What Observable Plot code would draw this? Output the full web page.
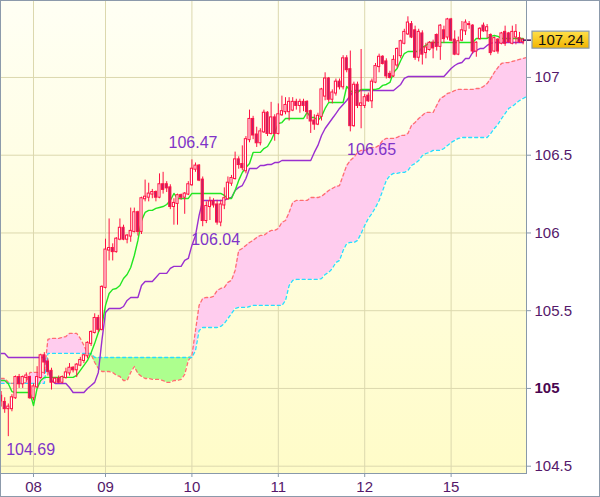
<!DOCTYPE html>
<html><head><meta charset="utf-8">
<script src="https://cdn.jsdelivr.net/npm/d3@7"></script>
<script src="https://cdn.jsdelivr.net/npm/@observablehq/plot@0.6"></script>
<style>html,body{margin:0;padding:0;background:#fff;}#chart{width:600px;height:497px;}</style>
</head><body><div id="chart"></div>
<script>
// hourly candles (index-based x axis)
const opens = [104.95,104.91,104.87,104.87,104.94,105.07,105.03,105.07,105.07,104.94,105.01,105.07,105.21,105.17,105.11,105.04,105.06,105.04,105.07,105.10,105.13,105.12,105.15,105.18,105.21,105.29,105.36,105.45,105.38,105.65,105.89,105.90,105.88,105.96,106.03,105.96,105.98,106.01,106.13,106.01,106.22,106.23,106.25,106.26,106.23,106.31,106.31,106.29,106.17,106.19,106.24,106.23,106.25,106.31,106.41,106.43,106.34,106.08,106.17,106.20,106.18,106.07,106.18,106.22,106.32,106.35,106.47,106.44,106.40,106.60,106.73,106.63,106.58,106.65,106.77,106.64,106.74,106.64,106.76,106.78,106.78,106.79,106.84,106.82,106.84,106.84,106.78,106.72,106.70,106.75,106.88,106.99,106.86,106.90,106.97,106.94,107.12,107.05,106.69,106.95,106.82,106.82,106.88,106.85,106.97,107.07,107.13,107.10,107.02,107.01,107.08,107.14,107.22,107.28,107.34,107.30,107.13,107.28,107.16,107.18,107.22,107.27,107.20,107.30,107.26,107.37,107.24,107.15,107.24,107.30,107.34,107.33,107.17,107.25,107.33,107.30,107.27,107.17,107.24,107.22,107.29,107.28,107.22,107.26,107.25,107.23];
const highs = [104.98,104.94,104.90,104.96,105.08,105.09,105.08,105.10,105.08,105.03,105.14,105.22,105.23,105.19,105.13,105.07,105.08,105.08,105.13,105.16,105.14,105.16,105.20,105.22,105.30,105.37,105.48,105.47,105.66,105.96,106.09,105.93,105.97,106.09,106.05,105.99,106.16,106.16,106.14,106.23,106.34,106.32,106.28,106.27,106.38,106.39,106.33,106.31,106.22,106.25,106.25,106.26,106.33,106.47,106.45,106.44,106.36,106.20,106.23,106.22,106.21,106.21,106.29,106.36,106.37,106.52,106.49,106.56,106.62,106.79,106.75,106.68,106.67,106.79,106.78,106.84,106.76,106.83,106.88,106.87,106.87,106.87,106.86,106.86,106.86,106.85,106.79,106.76,106.77,106.93,107.03,107.00,106.92,106.99,106.99,107.14,107.14,107.17,106.97,106.97,107.18,106.89,106.90,106.99,107.09,107.15,107.14,107.12,107.04,107.14,107.19,107.24,107.31,107.39,107.36,107.33,107.31,107.30,107.22,107.23,107.24,107.28,107.34,107.33,107.38,107.38,107.30,107.26,107.36,107.37,107.36,107.34,107.23,107.32,107.35,107.34,107.28,107.26,107.25,107.29,107.33,107.29,107.33,107.34,107.29,107.25];
const lows = [104.88,104.84,104.69,104.85,104.93,105.00,105.00,105.04,104.93,104.92,105.00,105.06,105.09,105.08,104.99,105.03,105.03,105.03,105.06,105.08,105.10,105.07,105.14,105.16,105.19,105.27,105.35,105.36,105.37,105.64,105.82,105.82,105.87,105.95,105.95,105.93,105.94,106.00,105.98,105.99,106.20,106.20,106.22,106.20,106.22,106.25,106.26,106.15,106.05,106.05,106.21,106.12,106.24,106.30,106.39,106.33,106.04,106.06,106.08,106.16,106.05,106.04,106.15,106.21,106.30,106.34,106.41,106.40,106.38,106.58,106.60,106.55,106.56,106.64,106.62,106.63,106.59,106.63,106.75,106.76,106.72,106.78,106.79,106.77,106.78,106.73,106.64,106.66,106.69,106.72,106.85,106.84,106.83,106.88,106.92,106.92,107.03,106.65,106.68,106.80,106.67,106.80,106.84,106.80,106.96,107.03,107.08,106.99,106.99,107.00,107.06,107.12,107.21,107.27,107.25,107.11,107.10,107.08,107.12,107.17,107.12,107.17,107.11,107.22,107.24,107.23,107.14,107.14,107.23,107.27,107.31,107.15,107.13,107.24,107.29,107.25,107.14,107.16,107.15,107.21,107.20,107.22,107.21,107.21,107.22,107.21];
const closes = [104.92,104.87,104.88,104.94,105.07,105.03,105.07,105.08,104.94,105.01,105.07,105.21,105.17,105.11,105.04,105.06,105.04,105.07,105.10,105.13,105.12,105.15,105.18,105.21,105.29,105.36,105.45,105.38,105.65,105.89,105.90,105.88,105.96,106.03,105.96,105.98,106.01,106.13,106.01,106.22,106.23,106.25,106.26,106.23,106.31,106.28,106.29,106.17,106.19,106.24,106.23,106.25,106.31,106.41,106.43,106.34,106.08,106.17,106.20,106.18,106.07,106.18,106.22,106.32,106.35,106.47,106.44,106.42,106.60,106.73,106.63,106.58,106.65,106.77,106.64,106.74,106.64,106.76,106.78,106.82,106.84,106.84,106.82,106.84,106.82,106.78,106.72,106.70,106.75,106.92,106.99,106.86,106.90,106.97,106.94,107.12,107.05,106.69,106.95,106.82,106.83,106.87,106.85,106.97,107.07,107.13,107.09,107.01,107.00,107.11,107.18,107.23,107.29,107.35,107.26,107.13,107.29,107.15,107.19,107.22,107.19,107.20,107.33,107.25,107.37,107.24,107.15,107.23,107.30,107.35,107.34,107.17,107.22,107.31,107.30,107.32,107.16,107.25,107.17,107.28,107.22,107.23,107.29,107.29,107.23,107.24];
// Ichimoku lines
const tenkan = [105.051,105.051,105.030,104.980,104.974,104.974,104.974,104.974,104.974,104.890,105.000,105.051,105.071,105.071,105.071,105.071,105.071,105.071,105.071,105.071,105.071,105.084,105.116,105.148,105.180,105.230,105.290,105.360,105.405,105.534,105.611,105.637,105.643,105.662,105.707,105.733,105.778,105.855,105.952,106.080,106.132,106.145,106.145,106.158,106.164,106.170,106.183,106.209,106.254,106.222,106.222,106.222,106.222,106.254,106.254,106.254,106.254,106.254,106.254,106.254,106.254,106.254,106.241,106.222,106.222,106.273,106.338,106.389,106.421,106.447,106.518,106.518,106.518,106.543,106.556,106.595,106.646,106.704,106.710,106.736,106.736,106.736,106.736,106.736,106.736,106.775,106.743,106.743,106.723,106.749,106.801,106.839,106.839,106.839,106.839,106.839,106.942,106.916,106.903,106.903,106.923,106.923,106.923,106.923,106.923,106.929,106.949,106.955,106.968,107.032,107.058,107.109,107.154,107.167,107.167,107.167,107.167,107.193,107.206,107.225,107.225,107.225,107.225,107.225,107.225,107.225,107.225,107.225,107.225,107.225,107.225,107.225,107.251,107.251,107.251,107.251,107.264,107.270,107.264,107.251,107.251,107.251,107.251,107.251,107.251,107.251];
const kijun = [105.225,105.225,105.199,105.199,105.199,105.199,105.199,105.199,105.199,105.199,105.199,105.199,105.199,105.129,105.051,105.032,105.032,105.032,105.032,105.006,104.974,104.974,104.974,104.974,105.000,105.019,105.039,105.103,105.309,105.489,105.514,105.514,105.514,105.514,105.527,105.566,105.585,105.585,105.585,105.662,105.688,105.688,105.688,105.714,105.740,105.740,105.740,105.772,105.785,105.785,105.785,105.823,105.836,105.920,105.984,106.113,106.209,106.209,106.209,106.209,106.209,106.209,106.209,106.222,106.228,106.273,106.293,106.305,106.350,106.415,106.415,106.415,106.434,106.434,106.440,106.440,106.453,106.453,106.466,106.466,106.466,106.466,106.466,106.466,106.466,106.466,106.466,106.518,106.563,106.627,106.672,106.704,106.736,106.768,106.801,106.826,106.852,106.884,106.916,106.916,106.916,106.916,106.916,106.916,106.916,106.916,106.916,106.916,106.916,106.916,106.936,106.955,106.994,107.006,107.006,107.006,107.006,107.006,107.006,107.006,107.006,107.006,107.006,107.006,107.032,107.058,107.077,107.090,107.096,107.122,107.122,107.161,107.174,107.186,107.186,107.206,107.219,107.225,107.225,107.225,107.225,107.225,107.225,107.225,107.225,107.225];
const spanA = [105.064,105.064,105.040,105.032,105.032,105.032,105.032,105.040,105.103,105.103,105.103,105.103,105.103,105.315,105.322,105.322,105.322,105.328,105.334,105.354,105.354,105.354,105.322,105.277,105.225,105.219,105.167,105.129,105.109,105.109,105.109,105.103,105.084,105.077,105.051,105.051,105.103,105.141,105.096,105.077,105.064,105.064,105.058,105.058,105.058,105.051,105.039,105.039,105.051,105.051,105.058,105.090,105.180,105.212,105.373,105.534,105.579,105.585,105.585,105.592,105.630,105.643,105.650,105.682,105.695,105.759,105.887,105.900,105.920,105.939,105.952,105.971,105.984,105.984,106.003,106.016,106.016,106.029,106.068,106.080,106.132,106.196,106.209,106.209,106.209,106.209,106.228,106.228,106.228,106.235,106.254,106.273,106.286,106.299,106.305,106.370,106.434,106.466,106.486,106.518,106.531,106.531,106.537,106.550,106.550,106.563,106.595,106.608,106.608,106.608,106.614,106.627,106.627,106.640,106.691,106.711,106.736,106.756,106.775,106.775,106.775,106.820,106.865,106.878,106.897,106.904,106.916,106.923,106.923,106.923,106.923,106.923,106.929,106.929,106.942,106.961,106.994,107.032,107.064,107.090,107.096,107.096,107.103,107.109,107.116,107.122,107.129];
const spanB = [105.032,105.032,105.032,105.032,105.032,105.032,105.032,105.032,105.032,105.032,105.032,105.032,105.032,105.225,105.225,105.225,105.225,105.225,105.225,105.225,105.225,105.225,105.225,105.225,105.225,105.225,105.199,105.199,105.199,105.199,105.199,105.199,105.199,105.199,105.199,105.199,105.199,105.199,105.199,105.199,105.199,105.199,105.199,105.199,105.199,105.199,105.199,105.199,105.199,105.199,105.199,105.199,105.199,105.199,105.244,105.373,105.392,105.392,105.392,105.392,105.392,105.399,105.418,105.450,105.482,105.514,105.521,105.521,105.521,105.527,105.534,105.534,105.534,105.534,105.534,105.534,105.534,105.534,105.534,105.566,105.662,105.695,105.701,105.701,105.701,105.701,105.701,105.701,105.701,105.707,105.733,105.746,105.772,105.810,105.823,105.887,105.932,105.939,105.939,105.952,105.997,106.048,106.093,106.125,106.164,106.209,106.273,106.338,106.370,106.383,106.383,106.389,106.389,106.402,106.434,106.447,106.466,106.498,106.511,106.518,106.531,106.531,106.531,106.543,106.563,106.582,106.595,106.608,106.614,106.614,106.614,106.614,106.614,106.614,106.614,106.614,106.640,106.672,106.698,106.736,106.768,106.801,106.814,106.833,106.852,106.865,106.878];
// axis ticks
const dayTickIdx = [9, 29, 53, 77, 101, 125];
const dayLabels = ["08", "09", "10", "11", "12", "15"];
const priceTicks = [104.5, 105, 105.5, 106, 106.5, 107];
// annotations (high/low markers)
const noteText = ["104.69", "106.47", "106.04", "106.65"];
const noteVal = [104.69, 106.47, 106.04, 106.65];
const noteIdx = [8.2, 53.3, 59.6, 102.9];
const noteDy = [13, -17, 13, 18];

const xDomain = [-0.17, 145.94];
const yDomain = [104.453, 107.495];

const candles = opens.map((o, i) => ({i, o, h: highs[i], l: lows[i], c: closes[i]}));
const up = candles.filter(d => d.c >= d.o);
const down = candles.filter(d => d.c < d.o);
const lines = tenkan.map((t, i) => ({i, t, k: kijun[i]}));
const cloud = spanA.map((a, i) => ({i, a, b: spanB[i], top: Math.max(a, spanB[i])}));
const notes = noteText.map((t, j) => ({t, v: noteVal[j], x: noteIdx[j], dy: noteDy[j]}));
const lastClose = closes[closes.length - 1];
const lastIdx = closes.length - 1;

const redC = "#ff1144";
const axisTxt = "#55186a";
const font = "'Liberation Sans', Arial, sans-serif";

const chart = Plot.plot({
  width: 600, height: 497,
  marginLeft: 0, marginTop: 0, marginRight: 74, marginBottom: 24,
  style: {fontFamily: font, background: "#ffffff", overflow: "visible"},
  x: {type: "linear", domain: xDomain},
  y: {type: "linear", domain: yDomain},
  marks: [
    Plot.frame({fill: "url(#bgGrad)", stroke: null}),
    Plot.gridX(dayTickIdx, {stroke: "#dcd8ae", strokeOpacity: 1}),
    Plot.gridY(priceTicks, {stroke: "#dcd8ae", strokeOpacity: 1}),
    Plot.areaY(cloud, {x: "i", y1: "b", y2: "top", fill: "#ffccee", clip: true}),
    Plot.areaY(cloud, {x: "i", y1: "a", y2: "top", fill: "#adff8e", clip: true}),
    Plot.line(cloud, {x: "i", y: "a", stroke: "#ff6f6f", strokeWidth: 1.3, strokeDasharray: "3,3", clip: true}),
    Plot.line(cloud, {x: "i", y: "b", stroke: "#2adcff", strokeWidth: 1.3, strokeDasharray: "3,3", clip: true}),
    Plot.line(lines, {x: "i", y: "k", stroke: "#9a2fd0", strokeWidth: 1.4}),
    Plot.line(lines, {x: "i", y: "t", stroke: "#22e622", strokeWidth: 1.4}),
    Plot.ruleX(candles, {x: "i", y1: "l", y2: "h", stroke: redC, strokeWidth: 1}),
    Plot.rect(up, {x1: d => d.i - 0.3, x2: d => d.i + 0.3, y1: "o", y2: "c", fill: "#ffffff", stroke: redC, strokeWidth: 1, insetTop: -0.5, insetBottom: -0.5}),
    Plot.rect(down, {x1: d => d.i - 0.3, x2: d => d.i + 0.3, y1: "o", y2: "c", fill: "#b5236e", stroke: redC, strokeWidth: 1, insetTop: -0.5, insetBottom: -0.5}),
    ...notes.map(n => Plot.text([n], {x: "x", y: "v", text: "t", dy: n.dy, fill: "#8034c8", fontSize: 16, fontFamily: font})),
    Plot.axisX(dayTickIdx, {anchor: "bottom", tickSize: 4, tickPadding: 4, tickFormat: (d, i) => dayLabels[i], stroke: "#8899aa", fill: axisTxt, fontSize: 15, label: null}),
    Plot.axisY([104.5, 105.5, 106, 106.5, 107], {anchor: "right", tickSize: 4, tickPadding: 4, tickFormat: d => String(d), stroke: "#8899aa", fill: axisTxt, fontSize: 15, label: null}),
    Plot.axisY([105], {anchor: "right", tickSize: 4, tickPadding: 4, tickFormat: d => String(d), stroke: "#8899aa", fill: "#4a0650", fontSize: 15, fontWeight: "bold", label: null}),
    Plot.ruleY([lastClose], {x1: lastIdx, x2: xDomain[1], insetRight: -5, stroke: "#4a1858", strokeWidth: 1.5}),
    Plot.rect([lastClose], {x1: xDomain[1], x2: xDomain[1], y1: d => d, y2: d => d, insetLeft: 6, insetRight: -63, insetTop: -8.5, insetBottom: -8.5, fill: "url(#goldGrad)", stroke: "#8899aa", strokeWidth: 1.2}),
    Plot.text([lastClose], {x: xDomain[1], y: d => d, text: d => d.toFixed(2), dx: 34.5, fill: "#111111", fontSize: 15, fontFamily: font}),
    Plot.frame({stroke: "#8899aa", fill: null})
  ]
});

document.getElementById("chart").appendChild(chart);

const svg = d3.select(chart);
const defs = svg.insert("defs", ":first-child");
const bg = defs.append("linearGradient").attr("id", "bgGrad").attr("x1", 0).attr("y1", 0).attr("x2", 0).attr("y2", 1);
bg.append("stop").attr("offset", "0%").attr("stop-color", "#fffff4");
bg.append("stop").attr("offset", "100%").attr("stop-color", "#fffcc8");
const gold = defs.append("linearGradient").attr("id", "goldGrad").attr("x1", 0).attr("y1", 0).attr("x2", 0).attr("y2", 1);
gold.append("stop").attr("offset", "0%").attr("stop-color", "#ffe04a");
gold.append("stop").attr("offset", "100%").attr("stop-color", "#f2b400");
svg.append("rect").attr("x", 0.5).attr("y", 0.5).attr("width", 599).attr("height", 496)
  .attr("fill", "none").attr("stroke", "#8c9aab");
</script>
</body></html>
